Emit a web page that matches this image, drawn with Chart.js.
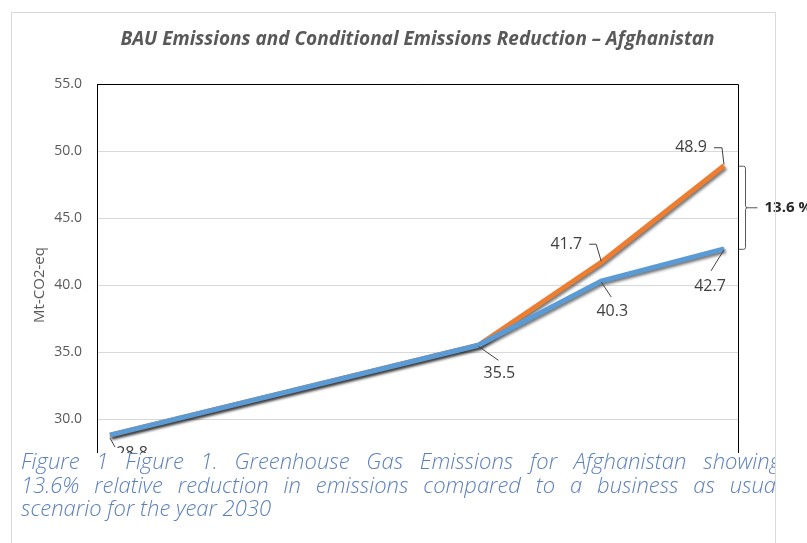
<!DOCTYPE html>
<html>
<head>
<meta charset="utf-8">
<script src="https://cdn.jsdelivr.net/npm/chart.js@4"></script>
<style>
  html, body { margin: 0; padding: 0; background: #fff; }
  #wrap { position: relative; width: 807px; height: 543px; overflow: hidden; }
  #chart { position: absolute; left: 0; top: 0; }
  #frame { position: absolute; left: 11px; top: 12px; width: 763px; height: 530px;
           border: 1px solid #d9d9d9; pointer-events: none; z-index: 3; }
  #mask { position: absolute; left: 12px; top: 453px; width: 763px; height: 90px;
          background: #fff; z-index: 2; }
  #caption { position: absolute; left: 21px; top: 449px; width: 760px; height: 80px;
             z-index: 4; overflow: hidden;
             font-family: "Open Sans", Lato, sans-serif; font-weight: 300; font-style: italic;
             font-size: 22px; line-height: 23.5px; color: #5b80bd; }
  #caption div { text-align: justify; text-align-last: justify; white-space: nowrap; }
  #caption div.last { text-align-last: left; }
  #clip { position: absolute; left: 0; top: 0; width: 775px; height: 543px; overflow: hidden; z-index: 4; }
</style>
</head>
<body>
<div id="wrap">
  <canvas id="chart" width="807" height="543"></canvas>
  <div id="mask"></div>
  <div id="frame"></div>
  <div id="clip">
    <div id="caption">
      <div>Figure 1 Figure 1. Greenhouse Gas Emissions for Afghanistan showing</div>
      <div>13.6% relative reduction in emissions compared to a business as usual</div>
      <div class="last">scenario for the year 2030</div>
    </div>
  </div>
</div>
<script>
const years = [2005, 2020, 2025, 2030];
const conditional = [28.8, 35.5, 40.3, 42.7];
const bau = [28.8, 35.5, 41.7, 48.9];
const yTicks = [25, 30, 35, 40, 45, 50, 55];
const reductionLabel = "13.6 %";

const labelFont = '16px "Open Sans", sans-serif';
const textColor = "#404040";

// leader lines: offsets from the data point, then where the value text sits
const labelSpecs = [
  { i: 0, path: [[0, 3], [5, 12]], text: [22, 18], value: conditional[0] },
  { i: 1, path: [[0, 1], [20, 15]], text: [21, 28], value: conditional[1] },
  { i: 2, path: [[0, 1], [10, 16]], text: [11, 30], value: conditional[2] },
  { i: 3, path: [[0, 1], [-13, 22]], text: [-14, 38], value: conditional[3] },
  { i: 2, path: [[0, -1], [-5, -18], [-12, -18]], text: [-35, -18], value: bau[2] },
  { i: 3, path: [[0, -1], [-2, -18], [-10, -18]], text: [-33, -18], value: bau[3] }
];

const shadowPlugin = {
  id: "lineShadow",
  beforeDatasetDraw(chart) {
    const ctx = chart.ctx;
    ctx.save();
    ctx.shadowColor = "rgba(0,0,0,0.55)";
    ctx.shadowBlur = 3;
    ctx.shadowOffsetX = 1.5;
    ctx.shadowOffsetY = 2;
  },
  afterDatasetDraw(chart) {
    chart.ctx.restore();
  }
};

const decorPlugin = {
  id: "decor",
  beforeDatasetsDraw(chart) {
    const { ctx, chartArea } = chart;
    ctx.save();
    ctx.strokeStyle = "#000";
    ctx.lineWidth = 1;
    ctx.beginPath();
    ctx.moveTo(chartArea.left, chartArea.top + 0.5);
    ctx.lineTo(chartArea.right + 0.5, chartArea.top + 0.5);
    ctx.lineTo(chartArea.right + 0.5, chartArea.bottom);
    ctx.stroke();
    ctx.restore();
  },
  afterDatasetsDraw(chart) {
    const { ctx, chartArea } = chart;
    const x = chart.scales.x;
    const y = chart.scales.y;
    ctx.save();
    ctx.strokeStyle = "#404040";
    ctx.lineWidth = 1;
    ctx.fillStyle = textColor;
    ctx.font = labelFont;
    ctx.textAlign = "center";
    ctx.textBaseline = "middle";
    labelSpecs.forEach((s) => {
      const px = x.getPixelForValue(years[s.i]);
      const py = y.getPixelForValue(s.value);
      ctx.beginPath();
      s.path.forEach(([dx, dy], k) => {
        if (k === 0) ctx.moveTo(px + dx, py + dy);
        else ctx.lineTo(px + dx, py + dy);
      });
      ctx.stroke();
      ctx.fillText(s.value.toFixed(1), px + s.text[0], py + s.text[1]);
    });

    // bracket showing the reduction in 2030
    const top = y.getPixelForValue(bau[3]) + 0.5;
    const bot = y.getPixelForValue(conditional[3]) + 0.5;
    const mid = (top + bot) / 2;
    const bx = chartArea.right + 7.5;
    ctx.strokeStyle = "#595959";
    ctx.beginPath();
    ctx.moveTo(chartArea.right + 1, top);
    ctx.lineTo(bx - 2, top);
    ctx.quadraticCurveTo(bx, top, bx, top + 2);
    ctx.lineTo(bx, mid - 2);
    ctx.quadraticCurveTo(bx, mid, bx + 2, mid);
    ctx.lineTo(bx + 12, mid);
    ctx.moveTo(bx + 2, mid);
    ctx.quadraticCurveTo(bx, mid, bx, mid + 2);
    ctx.lineTo(bx, bot - 2);
    ctx.quadraticCurveTo(bx, bot, bx - 2, bot);
    ctx.lineTo(chartArea.right + 1, bot);
    ctx.stroke();
    ctx.fillStyle = "#262626";
    ctx.font = 'bold 15px "Open Sans", sans-serif';
    ctx.textAlign = "left";
    ctx.fillText(reductionLabel, bx + 19, mid);
    ctx.restore();
  }
};

new Chart(document.getElementById("chart"), {
  type: "line",
  data: {
    datasets: [
      {
        label: "Conditional",
        data: years.map((yr, i) => ({ x: yr, y: conditional[i] })),
        borderColor: "#5b9bd5",
        borderWidth: 5,
        pointRadius: 0,
        tension: 0
      },
      {
        label: "BAU",
        data: years.map((yr, i) => ({ x: yr, y: bau[i] })),
        borderColor: "#ed7d31",
        borderWidth: 5,
        pointRadius: 0,
        tension: 0
      }
    ]
  },
  options: {
    responsive: false,
    animation: false,
    layout: { padding: { left: 0, right: 69, top: 10, bottom: 57 } },
    scales: {
      x: {
        type: "linear",
        min: 2004.47,
        max: 2030.57,
        display: false
      },
      y: {
        min: 25,
        max: 55,
        afterFit: (scale) => { scale.width = 97; },
        afterBuildTicks: (scale) => { scale.ticks = yTicks.map((v) => ({ value: v })); },
        border: { color: "#000", width: 1 },
        grid: { color: "#d9d9d9", drawTicks: false },
        ticks: {
          padding: 15,
          color: "#595959",
          font: { family: '"Open Sans", sans-serif', size: 14 },
          callback: (v) => Number(v).toFixed(1)
        },
        title: {
          display: true,
          text: "Mt-CO2-eq",
          color: "#595959",
          font: { family: '"Open Sans", sans-serif', size: 15 },
          padding: { top: 31, bottom: 0 }
        }
      }
    },
    plugins: {
      legend: { display: false },
      tooltip: { enabled: false },
      title: {
        display: true,
        fullSize: false,
        text: "BAU Emissions and Conditional Emissions Reduction – Afghanistan",
        color: "#595959",
        font: { family: '"Open Sans", sans-serif', size: 19, weight: "bold", style: "italic" },
        padding: { top: 18.6, bottom: 32.6 }
      }
    }
  },
  plugins: [shadowPlugin, decorPlugin]
});
</script>
</body>
</html>
